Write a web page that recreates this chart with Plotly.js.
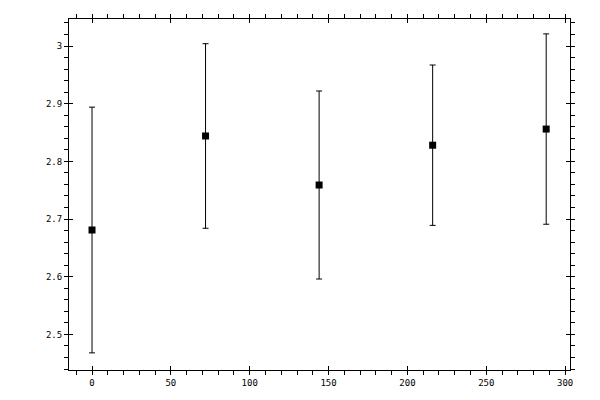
<!DOCTYPE html>
<html>
<head>
<meta charset="utf-8">
<script src="https://cdn.plot.ly/plotly-3.0.1.min.js"></script>
<style>
  html, body { margin: 0; padding: 0; background: #fff; }
  #chart { width: 600px; height: 400px; }
</style>
</head>
<body>
<div id="chart"></div>
<script>
// data
const xVals = [0, 72, 144, 216, 288];
const yVals = [2.681, 2.844, 2.759, 2.828, 2.856];
const yErr = [0.213, 0.160, 0.163, 0.139, 0.165];

function main() {
    const tickFont = { family: 'DejaVu Sans Mono, monospace', size: 9, color: '#000' };

    const trace = {
        x: xVals,
        y: yVals,
        type: 'scatter',
        mode: 'markers',
        marker: { symbol: 'square', size: 7, color: '#000' },
        error_y: { type: 'data', array: yErr, visible: true, color: '#000', thickness: 1, width: 3 },
        hoverinfo: 'none'
    };

    // outer axes: labels, outside major + minor ticks
    const xBase = {
        range: [-14.6, 303.1], dtick: 50, tick0: 0,
        ticks: 'outside', ticklen: 4, tickwidth: 1, tickcolor: '#000',
        showline: true, linecolor: '#000', linewidth: 1, mirror: 'allticks',
        showgrid: false, zeroline: false, tickfont: tickFont,
        minor: { dtick: 10, tick0: 0, ticks: 'outside', ticklen: 4, tickcolor: '#000', showgrid: false }
    };
    const yBase = {
        range: [2.4383, 3.0468], dtick: 0.1, tick0: 2.5,
        ticks: 'outside', ticklen: 4, tickwidth: 1, tickcolor: '#000',
        showline: true, linecolor: '#000', linewidth: 1, mirror: 'allticks',
        showgrid: false, zeroline: false, tickfont: tickFont,
        minor: { dtick: 0.02, tick0: 2.5, ticks: 'outside', ticklen: 4, tickcolor: '#000', showgrid: false }
    };

    // overlaid axes just for the inside half of the major ticks
    const xInner = {
        range: xBase.range, dtick: 50, tick0: 0, overlaying: 'x',
        ticks: 'inside', ticklen: 4, tickcolor: '#000', mirror: 'allticks',
        showline: false, showgrid: false, zeroline: false, showticklabels: false
    };
    const yInner = {
        range: yBase.range, dtick: 0.1, tick0: 2.5, overlaying: 'y',
        ticks: 'inside', ticklen: 4, tickcolor: '#000', mirror: 'allticks',
        showline: false, showgrid: false, zeroline: false, showticklabels: false
    };

    const helper = { x: [null], y: [null], xaxis: 'x2', yaxis: 'y2', type: 'scatter', mode: 'markers', showlegend: false, hoverinfo: 'none' };

    const layout = {
        width: 600, height: 400,
        margin: { l: 69, r: 30, t: 19, b: 30 },
        paper_bgcolor: '#fff', plot_bgcolor: '#fff',
        showlegend: false,
        xaxis: xBase, yaxis: yBase,
        xaxis2: xInner, yaxis2: yInner
    };

    Plotly.newPlot('chart', [trace, helper], layout, { displayModeBar: false, staticPlot: true });
}
main();
</script>
</body>
</html>
